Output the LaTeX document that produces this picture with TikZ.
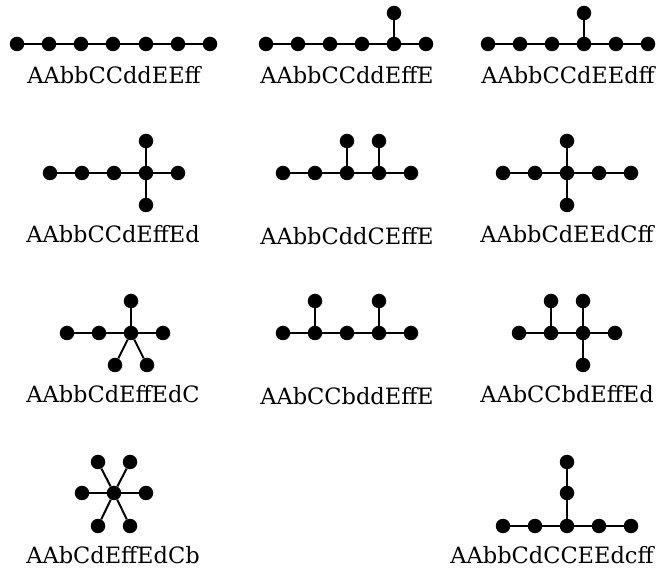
\documentclass[tikz,border=0pt]{standalone}
\usepackage{fontspec}
\setmainfont{DejaVu Serif}
\usetikzlibrary{positioning}

\begin{document}
\begin{tikzpicture}[x=1pt,y=-1pt,
  dot/.style={circle,fill=black,inner sep=0pt,minimum size=14.5pt},
  edge/.style={line width=2pt},
  lbl/.style={anchor=base,inner sep=0pt,font=\fontsize{22.5}{24}\selectfont}]
  \useasboundingbox (0,0) rectangle (657,572);
  % Tree 1: path
  \foreach \i/\x in {1/17,2/49,3/81,4/113,5/146,6/178,7/210}
    \node[dot] (pa\i) at (\x,44) {};
  \draw[edge] (pa1)--(pa2)--(pa3)--(pa4)--(pa5)--(pa6)--(pa7);
  \node[lbl] (la) at (114,84) {AAbbCCddEEff};
  % Tree 2
  \foreach \i/\x in {1/266,2/298,3/330,4/362,5/394,6/426}
    \node[dot] (pb\i) at (\x,44) {};
  \node[dot] (pb7) at (394,13) {};
  \draw[edge] (pb1)--(pb2)--(pb3)--(pb4)--(pb5)--(pb6);
  \draw[edge] (pb5)--(pb7);
  \node[lbl] (lb) at (347,84) {AAbbCCddEffE};
  % Tree 3
  \foreach \i/\x in {1/488,2/520,3/552,4/584,5/616,6/648}
    \node[dot] (pc\i) at (\x,44) {};
  \node[dot] (pc7) at (584,13) {};
  \draw[edge] (pc1)--(pc2)--(pc3)--(pc4)--(pc5)--(pc6);
  \draw[edge] (pc4)--(pc7);
  \node[lbl] (lc) at (568,84) {AAbbCCdEEdff};
  % Tree 4
  \foreach \i/\x in {1/50,2/82,3/114,4/146,5/178}
    \node[dot] (pd\i) at (\x,173) {};
  \node[dot] (pd6) at (146,141) {};
  \node[dot] (pd7) at (146,205) {};
  \draw[edge] (pd1)--(pd2)--(pd3)--(pd4)--(pd5);
  \draw[edge] (pd6)--(pd4)--(pd7);
  \node[lbl] (ld) at (113,243) {AAbbCCdEffEd};
  % Tree 5
  \foreach \i/\x in {1/283,2/315,3/347,4/379,5/411}
    \node[dot] (pe\i) at (\x,173) {};
  \node[dot] (pe6) at (347,141) {};
  \node[dot] (pe7) at (379,141) {};
  \draw[edge] (pe1)--(pe2)--(pe3)--(pe4)--(pe5);
  \draw[edge] (pe3)--(pe6);
  \draw[edge] (pe4)--(pe7);
  \node[lbl] (le) at (347,245) {AAbbCddCEffE};
  % Tree 6
  \foreach \i/\x in {1/503,2/535,3/567,4/599,5/631}
    \node[dot] (pf\i) at (\x,173) {};
  \node[dot] (pf6) at (567,141) {};
  \node[dot] (pf7) at (567,205) {};
  \draw[edge] (pf1)--(pf2)--(pf3)--(pf4)--(pf5);
  \draw[edge] (pf6)--(pf3)--(pf7);
  \node[lbl] (lf) at (567,243) {AAbbCdEEdCff};
  % Tree 7
  \foreach \i/\x in {1/67,2/99,3/131,4/163}
    \node[dot] (pg\i) at (\x,333) {};
  \node[dot] (pg5) at (131,301) {};
  \node[dot] (pg6) at (115,365) {};
  \node[dot] (pg7) at (147,365) {};
  \draw[edge] (pg1)--(pg2)--(pg3)--(pg4);
  \draw[edge] (pg3)--(pg5);
  \draw[edge] (pg6)--(pg3)--(pg7);
  \node[lbl] (lg) at (113,403) {AAbbCdEffEdC};
  % Tree 8
  \foreach \i/\x in {1/283,2/315,3/347,4/379,5/411}
    \node[dot] (ph\i) at (\x,333) {};
  \node[dot] (ph6) at (315,301) {};
  \node[dot] (ph7) at (379,301) {};
  \draw[edge] (ph1)--(ph2)--(ph3)--(ph4)--(ph5);
  \draw[edge] (ph2)--(ph6);
  \draw[edge] (ph4)--(ph7);
  \node[lbl] (lh) at (347,405) {AAbCCbddEffE};
  % Tree 9
  \foreach \i/\x in {1/519,2/551,3/583,4/615}
    \node[dot] (pi\i) at (\x,333) {};
  \node[dot] (pi5) at (551,301) {};
  \node[dot] (pi6) at (583,301) {};
  \node[dot] (pi7) at (583,365) {};
  \draw[edge] (pi1)--(pi2)--(pi3)--(pi4);
  \draw[edge] (pi2)--(pi5);
  \draw[edge] (pi6)--(pi3)--(pi7);
  \node[lbl] (li) at (567,403) {AAbCCbdEffEd};
  % Tree 10: star
  \node[dot] (pj0) at (114,493) {};
  \foreach \i/\x/\y in {1/82/493,2/146/493,3/98/462,4/130/462,5/98/526,6/130/526} {
    \node[dot] (pj\i) at (\x,\y) {};
    \draw[edge] (pj0)--(pj\i);
  }
  \node[lbl] (lj) at (113,563) {AAbCdEffEdCb};
  % Tree 11
  \foreach \i/\x in {1/503,2/535,3/567,4/599,5/631}
    \node[dot] (pk\i) at (\x,526) {};
  \node[dot] (pk6) at (567,493) {};
  \node[dot] (pk7) at (567,462) {};
  \draw[edge] (pk1)--(pk2)--(pk3)--(pk4)--(pk5);
  \draw[edge] (pk3)--(pk6)--(pk7);
  \node[lbl] (lk) at (552,563) {AAbbCdCCEEdcff};
\end{tikzpicture}
\end{document}
